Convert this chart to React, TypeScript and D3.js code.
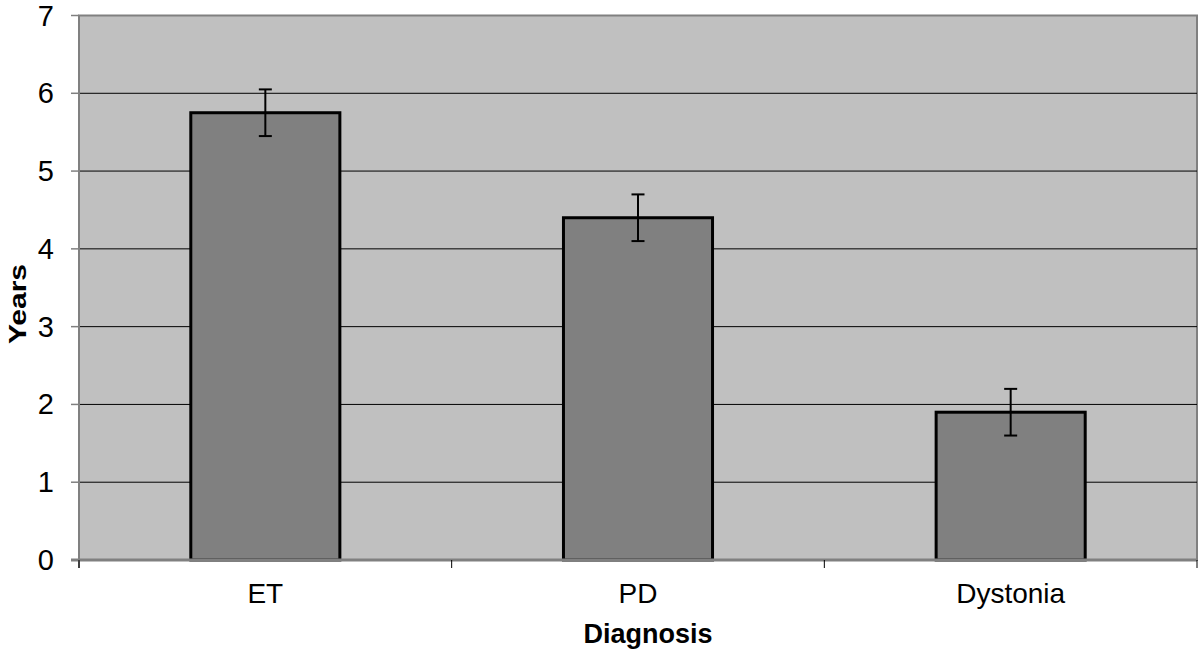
import React from "react";
import * as d3 from "d3";

const categories = ["ET", "PD", "Dystonia"];
const values = [5.75, 4.4, 1.9];
const errors = [0.3, 0.3, 0.3];
const yTicks = [0, 1, 2, 3, 4, 5, 6, 7];

export default function App() {
  const W = 1200, H = 649;
  const left = 79, right = 1197, top = 15.5, bottom = 560;
  const x = d3.scaleBand<string>().domain(categories).range([left, right]).paddingInner(0.6).paddingOuter(0.3);
  const band = d3.scaleBand<string>().domain(categories).range([left, right]);
  const y = d3.scaleLinear().domain([0, 7]).range([bottom, top]);
  const font = "Liberation Sans, Arial, sans-serif";
  return (
    <svg width={W} height={H} style={{ position: "absolute", left: 0, top: 0 }}>
      <rect x={left} y={top} width={right - left} height={bottom - top} fill="#c0c0c0" stroke="#808080" strokeWidth={2} />
      {yTicks.filter(t => t > 0 && t < 7).map(t => (
        <line key={t} x1={left} x2={right} y1={y(t)} y2={y(t)} stroke="#000" strokeWidth={1} />
      ))}
      {categories.map((c, i) => {
        const cx = x(c)! + x.bandwidth() / 2;
        return (
          <g key={c}>
            <rect x={x(c)!} y={y(values[i])} width={x.bandwidth()} height={bottom - y(values[i])} fill="#808080" stroke="#000" strokeWidth={3} />
            <line x1={cx} x2={cx} y1={y(values[i] + errors[i])} y2={y(values[i] - errors[i])} stroke="#000" strokeWidth={2} />
            <line x1={cx - 6.5} x2={cx + 6.5} y1={y(values[i] + errors[i])} y2={y(values[i] + errors[i])} stroke="#000" strokeWidth={2} />
            <line x1={cx - 6.5} x2={cx + 6.5} y1={y(values[i] - errors[i])} y2={y(values[i] - errors[i])} stroke="#000" strokeWidth={2} />
            <text x={band(c)! + band.bandwidth() / 2} y={603} textAnchor="middle" fontFamily={font} fontSize={28} fill="#000">{c}</text>
          </g>
        );
      })}
      <line x1={left} x2={left} y1={top} y2={bottom + 8} stroke="#808080" strokeWidth={2} />
      <line x1={left - 8} x2={right} y1={bottom} y2={bottom} stroke="#808080" strokeWidth={3} />
      {yTicks.map(t => (
        <g key={t}>
          <line x1={left - 8} x2={left} y1={y(t)} y2={y(t)} stroke="#808080" strokeWidth={1.5} />
          <text x={54} y={y(t) + 10} textAnchor="end" fontFamily={font} fontSize={29} fill="#000">{t}</text>
        </g>
      ))}
      {[0, 1, 2, 3].map(i => {
        const xx = left + band.step() * i;
        return <line key={i} x1={xx} x2={xx} y1={bottom} y2={bottom + 8} stroke="#000" strokeWidth={1} />;
      })}
      <text x={(left + right) / 2 + 10} y={643} textAnchor="middle" fontFamily={font} fontSize={27} fontWeight="bold" fill="#000">Diagnosis</text>
      <text transform={`translate(26, 304) rotate(-90) scale(1.25, 1)`} textAnchor="middle" fontFamily={font} fontSize={24} fontWeight="bold" fill="#000">Years</text>
    </svg>
  );
}
